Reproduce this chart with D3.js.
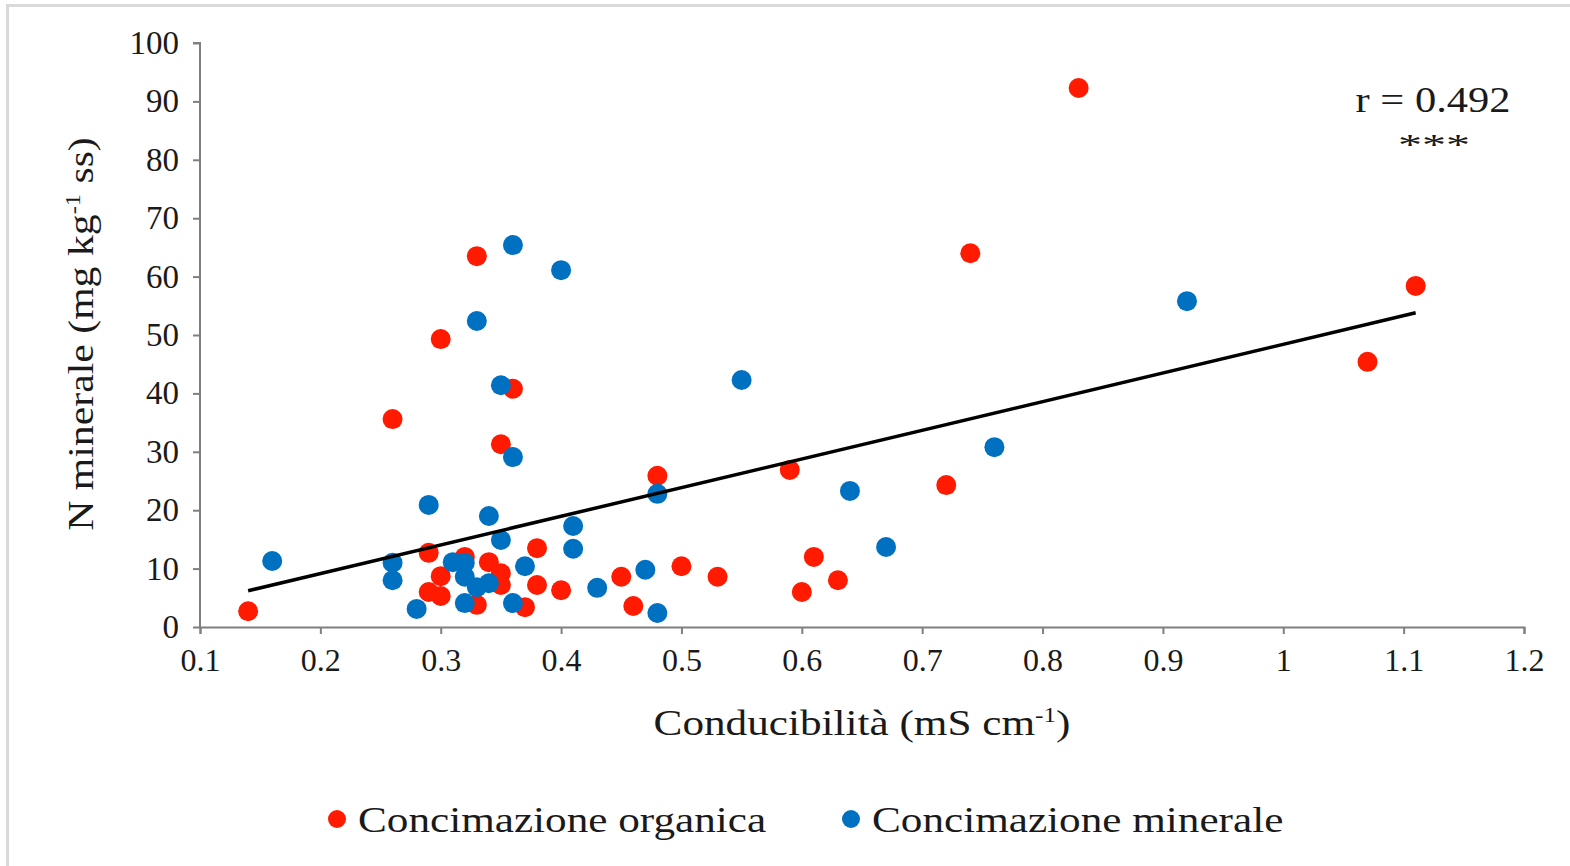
<!DOCTYPE html>
<html>
<head>
<meta charset="utf-8">
<script src="https://cdn.jsdelivr.net/npm/d3@7"></script>
<style>
  body { margin: 0; background: #fff; }
  text { font-family: "Liberation Serif", "Times New Roman", serif; fill: #1a1a1a; }
</style>
</head>
<body>
<script>
let width = 1570
let height = 866

// Concimazione organica: conductivity (mS cm-1), mineral N (mg kg-1 ss)
let orgX = [0.14, 0.83, 0.74, 0.33, 0.30, 0.26, 0.36, 0.35, 0.48, 0.59, 0.72, 1.07, 1.11,
  0.61, 0.63, 0.60, 0.53, 0.50, 0.45, 0.46,
  0.29, 0.30, 0.29, 0.30, 0.32, 0.34, 0.35, 0.35, 0.33, 0.38, 0.38, 0.37, 0.40]
let orgY = [2.7, 92.3, 64.0, 63.5, 49.3, 35.6, 40.8, 31.3, 25.9, 26.9, 24.3, 45.4, 58.4,
  12.0, 8.0, 6.0, 8.6, 10.4, 8.6, 3.6,
  12.7, 8.7, 6.0, 5.3, 12.0, 11.1, 9.2, 7.2, 3.8, 13.5, 7.2, 3.4, 6.3]

// Concimazione minerale
let minX = [0.36, 0.40, 0.33, 0.35, 0.55, 0.92, 0.36, 0.29, 0.34, 0.48, 0.64, 0.76, 0.67,
  0.16, 0.26, 0.26, 0.28, 0.35, 0.37, 0.41, 0.41, 0.43, 0.47, 0.48,
  0.31, 0.32, 0.32, 0.33, 0.34, 0.32, 0.36]
let minY = [65.4, 61.1, 52.4, 41.4, 42.3, 55.8, 29.1, 20.9, 19.0, 22.8, 23.3, 30.8, 13.7,
  11.3, 11.0, 8.0, 3.1, 14.9, 10.4, 17.3, 13.4, 6.7, 9.8, 2.4,
  11.1, 11.0, 8.6, 6.8, 7.5, 4.1, 4.1]

// linear trend endpoints
let trendX = [0.14, 1.11]
let trendY = [6.2, 53.8]

let xTicks = [0.1, 0.2, 0.3, 0.4, 0.5, 0.6, 0.7, 0.8, 0.9, 1, 1.1, 1.2]
let yTicks = [0, 10, 20, 30, 40, 50, 60, 70, 80, 90, 100]

let seriesNames = ['Concimazione organica', 'Concimazione minerale']
let seriesColors = ['#ff1a00', '#0070c0']

let svg = d3.select('body').append('svg')
  .attr('width', width)
  .attr('height', height)

// outer frame
svg.append('rect')
  .attr('x', 7.5).attr('y', 5.5)
  .attr('width', width).attr('height', height)
  .attr('fill', '#fff')
  .attr('stroke', '#d9d9d9')
  .attr('stroke-width', 3)

let x = d3.scaleLinear().domain([0.1, 1.2]).range([200, 1524])
let y = d3.scaleLinear().domain([0, 100]).range([627, 43])

let axisColor = '#7f7f7f'

let xAxis = svg.append('g')
  .attr('transform', 'translate(0,627)')
  .call(d3.axisBottom(x).tickValues(xTicks).tickSizeOuter(0).tickSize(7).tickPadding(14)
    .tickFormat(d => d3.format('')(+d.toFixed(1))))
xAxis.selectAll('path, line').attr('stroke', axisColor).attr('stroke-width', 2)
xAxis.selectAll('text').style('font-size', '32px').attr('fill', '#1a1a1a')

let yAxis = svg.append('g')
  .attr('transform', 'translate(200,0)')
  .call(d3.axisLeft(y).tickValues(yTicks).tickSizeOuter(0).tickSize(7).tickPadding(14))
yAxis.selectAll('path, line').attr('stroke', axisColor).attr('stroke-width', 2)
yAxis.selectAll('text').style('font-size', '33px').attr('fill', '#1a1a1a')
yAxis.select('.domain').attr('d', 'M-7,' + y(100) + 'H0V' + y(0))

let plot = svg.append('g')

plot.selectAll('circle.org')
  .data(d3.zip(orgX, orgY))
  .join('circle')
  .attr('class', 'org')
  .attr('cx', d => x(d[0]))
  .attr('cy', d => y(d[1]))
  .attr('r', 10)
  .attr('fill', seriesColors[0])

plot.selectAll('circle.min')
  .data(d3.zip(minX, minY))
  .join('circle')
  .attr('class', 'min')
  .attr('cx', d => x(d[0]))
  .attr('cy', d => y(d[1]))
  .attr('r', 10)
  .attr('fill', seriesColors[1])

plot.append('path')
  .datum(d3.zip(trendX, trendY))
  .attr('d', d3.line().x(d => x(d[0])).y(d => y(d[1])))
  .attr('stroke', '#000')
  .attr('stroke-width', 3.5)
  .attr('fill', 'none')

// correlation note (the source text is set a bit wide)
svg.append('text')
  .attr('transform', 'translate(1433,112) scale(1.18,1)')
  .attr('text-anchor', 'middle')
  .style('font-size', '36px')
  .text('r = 0.492')
svg.append('text')
  .attr('transform', 'translate(1434,154) scale(1.6,1)')
  .attr('text-anchor', 'middle')
  .style('font-size', '30px')
  .text('***')

// axis titles
let xt = svg.append('text')
  .attr('transform', 'translate(862,735) scale(1.2,1)')
  .attr('text-anchor', 'middle')
  .style('font-size', '36px')
xt.append('tspan').text('Conducibilità (mS cm')
xt.append('tspan').attr('dy', -13).style('font-size', '21px').text('-1')
xt.append('tspan').attr('dy', 13).text(')')

let yt = svg.append('text')
  .attr('transform', 'translate(93,334) rotate(-90) scale(1.16,1)')
  .attr('text-anchor', 'middle')
  .style('font-size', '36px')
yt.append('tspan').text('N minerale (mg kg')
yt.append('tspan').attr('dy', -13).style('font-size', '21px').text('-1')
yt.append('tspan').attr('dy', 13).text(' ss)')

// legend
let legendX = [337, 851]
let legend = svg.append('g')
seriesNames.forEach((name, i) => {
  legend.append('circle')
    .attr('cx', legendX[i]).attr('cy', 819)
    .attr('r', 9)
    .attr('fill', seriesColors[i])
  legend.append('text')
    .attr('transform', 'translate(' + (legendX[i] + 21) + ',832) scale(1.2,1)')
    .style('font-size', '36px')
    .text(name)
})
</script>
</body>
</html>
